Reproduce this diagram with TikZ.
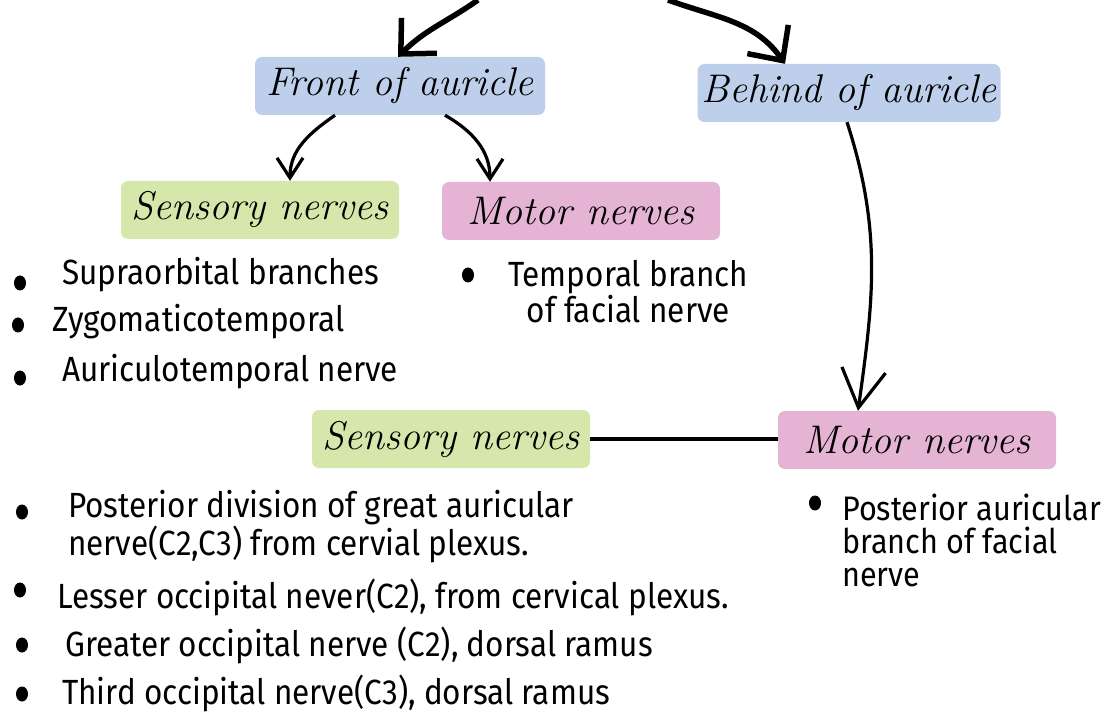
\documentclass[tikz,border=0pt]{standalone}
\usepackage{fontspec}
\newfontfamily\txt[FakeStretch=0.9]{Fira Sans}
\usetikzlibrary{arrows.meta,positioning,shapes.geometric}
\definecolor{frontcol}{HTML}{BDCFEA}
\definecolor{sencol}{HTML}{D5E7AA}
\definecolor{motcol}{HTML}{E5B3D3}

\begin{document}
\begin{tikzpicture}[x=1pt, y=1pt,
  hd/.style   = {rounded corners=7pt, inner sep=0pt, minimum height=58pt,
                 font=\itshape\fontsize{40}{44}\selectfont},
  front/.style = {hd, fill=frontcol},
  sens/.style  = {hd, fill=sencol, minimum width=278pt},
  mot/.style   = {hd, fill=motcol, minimum width=278pt},
  item/.style  = {inner sep=0pt, align=left,
                  font=\txt\fontsize{35}{36}\selectfont},
  dot/.style   = {ellipse, fill, inner sep=0pt, minimum width=12pt, minimum height=15pt},
  arr/.style   = {-{Straight Barb[length=20pt, width=26pt]}, line width=3.2pt},
  big/.style   = {-{Straight Barb[length=26pt, width=50pt]}, line width=5.5pt}]
\useasboundingbox (0,0) rectangle (1104,-714);

\node[front, minimum width=290pt] (fr) at (400,-86) {Front of auricle};
\node[front, minimum width=303pt] (bh) at (849,-93) {Behind of auricle};
\node[sens] (s1) at (260,-210) {Sensory nerves};
\node[mot]  (m1) at (581,-211) {Motor nerves};
\node[sens] (s2) at (451,-439) {Sensory nerves};
\node[mot]  (m2) at (917,-440) {Motor nerves};

\coordinate (t1) at (478,0);
\coordinate (t2) at (668,0);

\node[dot] (d1) at (20,-283) {};
\node[item, anchor=west] (i1) at (62,-275) {Supraorbital branches};
\node[dot] (d2) at (18,-325) {};
\node[item, anchor=west] (i2) at (52,-322) {Zygomaticotemporal};
\node[dot] (d3) at (20,-378) {};
\node[item, anchor=west] (i3) at (62,-372) {Auriculotemporal nerve};

\node[dot] (d4) at (468,-275) {};
\node[item, align=center, anchor=north west] (i4) at (508,-260)
  {Temporal branch\\of facial nerve};

\node[dot] (d5) at (22,-512) {};
\node[item, anchor=north west] (i5) at (68,-490)
  {Posterior division of great auricular\\nerve(C2,C3) from cervial plexus.};
\node[dot] (d6) at (20,-590) {};
\node[item, anchor=west] (i6) at (57,-597) {Lesser occipital never(C2), from cervical plexus.};
\node[dot] (d7) at (22,-645) {};
\node[item, anchor=west] (i7) at (65,-645) {Greater occipital nerve (C2), dorsal ramus};
\node[dot] (d8) at (22,-694) {};
\node[item, anchor=west] (i8) at (62,-693) {Third occipital nerve(C3), dorsal ramus};

\node[dot] (d9) at (815,-503) {};
\node[item, anchor=north west, font=\txt\fontsize{34}{33}\selectfont] (i9) at (842,-494)
  {Posterior auricular\\branch of facial\\nerve};

\draw[big] (t1) to[out=215, in=45] ([xshift=-2pt]fr.north);
\draw[big] (t2) to[out=-20, in=125] ([xshift=-64pt]bh.north);
\draw[arr] ([xshift=-65pt]fr.south) to[out=215, in=90] ([xshift=30pt]s1.north);
\draw[arr] ([xshift=45pt]fr.south) to[out=-30, in=90] ([xshift=-91pt]m1.north);
\draw[arr, -{Straight Barb[length=38pt, width=44pt]}] ([xshift=-2pt]bh.south)
  to[out=-72, in=82] ([xshift=-59pt]m2.north);
\draw[line width=3.5pt] (s2.east) -- (s2.east -| m2.west);
\end{tikzpicture}
\end{document}
